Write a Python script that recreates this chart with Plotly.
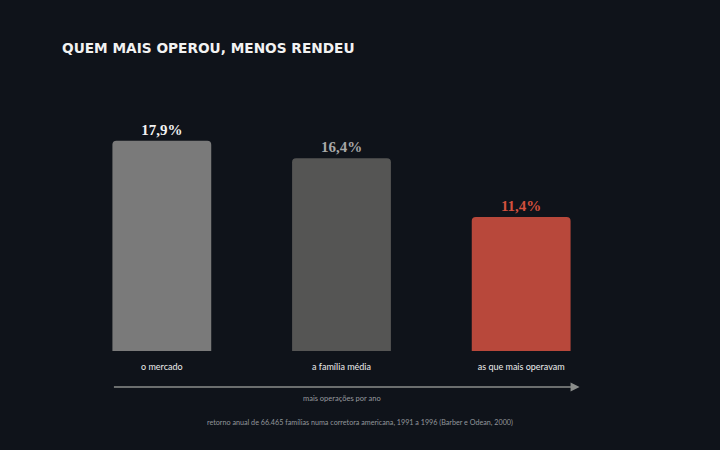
import plotly.graph_objects as go

# data
categories = ["o mercado", "a família média", "as que mais operavam"]
retorno = [17.9, 16.4, 11.4]

bar_colors = ["#7a7a7a", "#555554", "#b8483b"]
text_colors = ["#f2f2f2", "#a8a8a8", "#d3503d"]

bg = "#0f131a"

fig = go.Figure()

fig.add_trace(go.Bar(
    x=categories, y=retorno,
    width=0.55,
    marker=dict(color=bar_colors, line=dict(width=0)),
    texttemplate="%{y:.1f}%",
    textposition="outside",
    textfont=dict(family="Liberation Serif", size=15, color=text_colors, weight="bold"),
    cliponaxis=False,
    hoverinfo="skip",
))

# arrow under the categories
fig.add_annotation(
    x=2.325, y=-0.153, xref="x", yref="paper",
    ax=-0.275, ay=0, axref="x", ayref="pixel",
    text="", showarrow=True,
    arrowhead=2, arrowsize=1.2, arrowwidth=1.5, arrowcolor="#8a8d8b",
)
fig.add_annotation(
    x=1, y=-0.2, xref="x", yref="paper", yanchor="middle",
    text="mais operações por ano", showarrow=False,
    font=dict(family="Lato", size=7.5, color="#969a9f"),
)
fig.add_annotation(
    x=0.535, y=-0.303, xref="paper", yref="paper", yanchor="middle",
    text="retorno anual de 66.465 famílias numa corretora americana, 1991 a 1996 (Barber e Odean, 2000)",
    showarrow=False,
    font=dict(family="Lato", size=7.2, color="#92969b"),
)

fig.update_layout(
    width=720, height=450,
    paper_bgcolor=bg, plot_bgcolor=bg,
    separators=",.",
    barcornerradius=4,
    showlegend=False,
    margin=dict(l=71.5, r=108.5, t=116.4, b=99),
    title=dict(
        text="QUEM MAIS OPEROU, MENOS RENDEU",
        x=62 / 720, xref="container", xanchor="left",
        y=1 - 48 / 450, yref="container", yanchor="middle",
        font=dict(family="DejaVu Sans", size=13.7, color="#f2f2f2", weight="bold"),
    ),
    xaxis=dict(
        range=[-0.5, 2.5], showgrid=False, zeroline=False, showline=False,
        ticks="", ticklabelstandoff=9,
        tickfont=dict(family="Lato", size=9, color="#ededed"),
    ),
    yaxis=dict(range=[0, 20], visible=False, showgrid=False, zeroline=False),
)

fig.write_html(
    "out.html",
    config={"displayModeBar": False},
    post_script="document.body.style.margin='0';document.body.style.background='" + bg + "';",
)
